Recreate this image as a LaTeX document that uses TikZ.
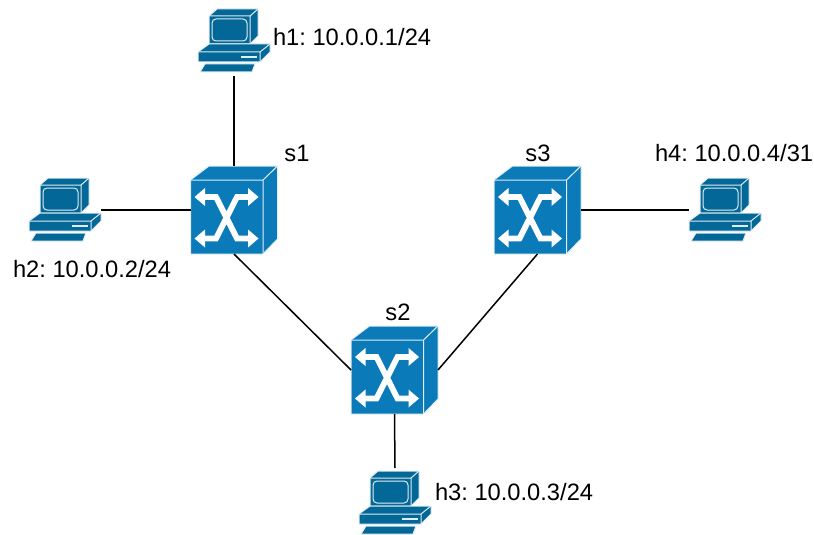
\documentclass[tikz,border=0pt]{standalone}
\usepackage{fontspec}
\setmainfont{Liberation Sans}
\usepackage{tikz}
\usetikzlibrary{positioning}

\definecolor{HostBlue}{HTML}{036897}
\definecolor{SwitchBlue}{HTML}{0A7AB8}

\begin{document}
\frenchspacing
\begin{tikzpicture}[x=1pt,y=-1pt]
  \tikzset{SwitchStyle/.style = {
    shape         = rectangle,
    draw          = none,
    inner sep     = 0pt,
    outer sep     = 0pt,
    minimum width = 87pt,
    minimum height= 88pt
    }
  }
  \tikzset{HostStyle/.style = {
    shape         = rectangle,
    draw          = none,
    inner sep     = 0pt,
    outer sep     = 0pt,
    minimum width = 72pt,
    minimum height= 70pt
    }
  }
  \tikzset{LinkStyle/.style = {
    draw          = black,
    line width    = 1.5pt
    }
  }
  \tikzset{LabelStyle/.style = {
    inner sep     = 0pt,
    outer sep     = 0pt,
    text          = black,
    font          = \fontsize{23.7}{28}\selectfont
    }
  }
  \tikzset{IconEdge/.style = {
    draw          = white!88!HostBlue,
    line width    = 1pt,
    line join     = round
    }
  }
  \tikzset{SwitchIcon/.pic = {
    \fill[SwitchBlue] (-43.5,-30) -- (-25,-44) -- (43.5,-44) -- (29,-30) -- cycle;
    \fill[SwitchBlue] (29,-30) -- (43.5,-44) -- (43.5,29) -- (29,44) -- cycle;
    \fill[SwitchBlue] (-43.5,-30) rectangle (29,44);
    \draw[IconEdge] (-43.5,-30) -- (-25,-44) -- (43.5,-44) -- (43.5,29) -- (29,44) -- (-43.5,44) -- cycle;
    \draw[IconEdge] (-43.5,-30) -- (29,-30) -- (29,44) (29,-30) -- (43.5,-44);
    \draw[white, line width=5.8pt, line join=miter]
      (-30,-13) -- (-18,-13) -- (3,28.5) -- (15,28.5)
      (-30,28.5) -- (-18,28.5) -- (3,-13) -- (15,-13);
    \foreach \ay in {-13,28.5} {
      \fill[white] (-39.5,\ay) -- (-29,\ay-9) -- (-29,\ay+9) -- cycle;
      \fill[white] (24.5,\ay) -- (14,\ay-9) -- (14,\ay+9) -- cycle;
    }
    }
  }
  \tikzset{HostIcon/.pic = {
    % monitor
    \filldraw[IconEdge, fill=HostBlue] (-25,-25) -- (-17,-32) -- (24,-32) -- (24,-5) -- (16,3) -- (-25,3) -- cycle;
    \draw[IconEdge] (-25,-25) -- (16,-25) -- (16,3) (16,-25) -- (24,-32);
    \draw[IconEdge, rounded corners=4pt] (-22,-22) rectangle (13,0);
    % base
    \filldraw[IconEdge, fill=HostBlue] (-36,11) -- (-25,3) -- (36,3) -- (36,11) -- (26,21) -- (-36,21) -- cycle;
    \draw[IconEdge] (-36,11) -- (26,11) -- (26,21) (26,11) -- (36,3);
    \draw[IconEdge, line width=1.5pt] (7,16) -- (23,16);
    % keyboard
    \filldraw[IconEdge, fill=HostBlue] (-29,23) -- (21,23) -- (18,31) -- (-34,31) -- cycle;
    }
  }

  \useasboundingbox (0,0) rectangle (814,535);

  \node[SwitchStyle](s1) at (234,210) {};
  \node[SwitchStyle](s2) at (394.5,370) {};
  \node[SwitchStyle](s3) at (537.5,210) {};
  \node[HostStyle](h1) at (234,41) {};
  \node[HostStyle](h2) at (65,210) {};
  \node[HostStyle](h3) at (395,503) {};
  \node[HostStyle](h4) at (725,210) {};

  \path (s1) pic {SwitchIcon};
  \path (s2) pic {SwitchIcon};
  \path (s3) pic {SwitchIcon};
  \path (h1) pic {HostIcon};
  \path (h2) pic {HostIcon};
  \path (h3) pic {HostIcon};
  \path (h4) pic {HostIcon};

  \draw[LinkStyle] (h1.south) -- (s1.north);
  \draw[LinkStyle] (h2.east) -- (s1.west);
  \draw[LinkStyle] (s1.south) -- (s2.west);
  \draw[LinkStyle] (s2.east) -- (s3.south);
  \draw[LinkStyle] (s3.east) -- (h4.west);
  \draw[LinkStyle] (s2.south) -- (h3.north);

  \node[LabelStyle, anchor=base west](h1label) at (273,46) {h1: 10.0.0.1/24};
  \node[LabelStyle, anchor=base west](h2label) at (13,277) {h2: 10.0.0.2/24};
  \node[LabelStyle, anchor=base west](h3label) at (435,500) {h3: 10.0.0.3/24};
  \node[LabelStyle, anchor=base west](h4label) at (655,161) {h4: 10.0.0.4/31};
  \node[LabelStyle, anchor=base](s1label) at (297,161) {s1};
  \node[LabelStyle, anchor=base](s2label) at (398,320) {s2};
  \node[LabelStyle, anchor=base](s3label) at (538,161) {s3};
\end{tikzpicture}
\end{document}
